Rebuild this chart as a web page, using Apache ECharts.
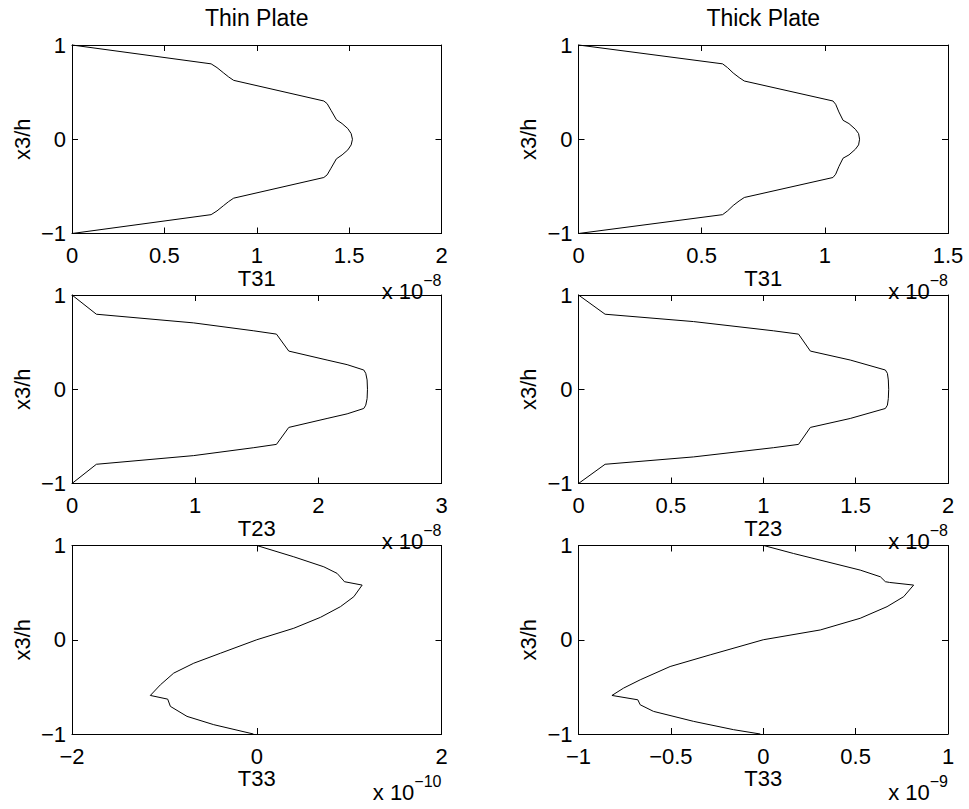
<!DOCTYPE html>
<html><head><meta charset="utf-8">
<script src="https://cdn.jsdelivr.net/npm/echarts@6/dist/echarts.min.js"></script>
<style>html,body{margin:0;padding:0;background:#fff}#c{width:969px;height:809px}</style>
</head><body><div id="c"></div>
<script>
// ---- data (x values in units of the axis multiplier, y = x3/h) ----
const columnTitles = ['Thin Plate', 'Thick Plate'];
const xNames = ['T31', 'T31', 'T23', 'T23', 'T33', 'T33'];
const xMins = [0, 0, 0, 0, -2, -1];
const xMaxs = [2, 1.5, 3, 2, 2, 1];
const xSteps = [0.5, 0.5, 1, 0.5, 2, 0.5];
const exponents = ['\u22128', '\u22128', '\u22128', '\u22128', '\u221210', '\u22129'];
const yName = 'x3/h';
const yMin = -1, yMax = 1, yStep = 1;

const thinT31Y = [1, 0.8, 0.76, 0.703, 0.661, 0.625, 0.406, 0.378, 0.307, 0.208, 0.166, 0.113, 0.06, 0, -0.06, -0.113, -0.166, -0.208, -0.307, -0.378, -0.406, -0.625, -0.661, -0.703, -0.76, -0.8, -1];
const thinT31X = [0, 0.753, 0.785, 0.821, 0.848, 0.875, 1.363, 1.381, 1.402, 1.431, 1.462, 1.493, 1.511, 1.518, 1.511, 1.493, 1.462, 1.431, 1.402, 1.381, 1.363, 0.875, 0.848, 0.821, 0.785, 0.753, 0];

const thickT31Y = [1, 0.8, 0.76, 0.703, 0.655, 0.618, 0.406, 0.371, 0.29, 0.201, 0.166, 0.106, 0.06, 0, -0.06, -0.106, -0.166, -0.201, -0.29, -0.371, -0.406, -0.618, -0.655, -0.703, -0.76, -0.8, -1];
const thickT31X = [0, 0.585, 0.605, 0.628, 0.652, 0.673, 1.033, 1.044, 1.057, 1.074, 1.098, 1.124, 1.137, 1.141, 1.137, 1.124, 1.098, 1.074, 1.057, 1.044, 1.033, 0.673, 0.652, 0.628, 0.605, 0.585, 0];

const thinT23Y = [1, 0.796, 0.704, 0.62, 0.585, 0.405, 0.31, 0.261, 0.204, 0.169, 0.099, 0, -0.099, -0.169, -0.204, -0.261, -0.31, -0.405, -0.585, -0.62, -0.704, -0.796, -1];
const thinT23X = [0, 0.198, 0.988, 1.476, 1.66, 1.76, 2.071, 2.234, 2.369, 2.385, 2.396, 2.399, 2.396, 2.385, 2.369, 2.234, 2.071, 1.76, 1.66, 1.476, 0.988, 0.198, 0];

const thickT23Y = [1, 0.796, 0.718, 0.62, 0.585, 0.405, 0.31, 0.204, 0.169, 0.099, 0, -0.099, -0.169, -0.204, -0.31, -0.405, -0.585, -0.62, -0.718, -0.796, -1];
const thickT23X = [0, 0.144, 0.623, 1.056, 1.191, 1.255, 1.471, 1.661, 1.672, 1.677, 1.679, 1.677, 1.672, 1.661, 1.471, 1.255, 1.191, 1.056, 0.623, 0.144, 0];

const thinT33Y = [1, 0.88, 0.774, 0.704, 0.633, 0.616, 0.58, 0.457, 0.351, 0.238, 0.122, 0, -0.143, -0.249, -0.354, -0.478, -0.591, -0.63, -0.707, -0.813, -0.901, -1];
const thinT33X = [0, 0.401, 0.726, 0.87, 0.935, 0.949, 1.141, 1.051, 0.906, 0.69, 0.401, 0, -0.393, -0.682, -0.899, -1.043, -1.152, -0.964, -0.935, -0.755, -0.466, -0.036];

const thickT33Y = [1, 0.915, 0.827, 0.739, 0.668, 0.616, 0.608, 0.58, 0.457, 0.351, 0.228, 0.104, 0, -0.16, -0.284, -0.425, -0.513, -0.591, -0.637, -0.69, -0.76, -0.866, -0.954, -1];
const thickT33X = [0.002, 0.164, 0.345, 0.525, 0.634, 0.661, 0.684, 0.814, 0.76, 0.67, 0.525, 0.309, 0, -0.287, -0.504, -0.666, -0.756, -0.819, -0.679, -0.666, -0.594, -0.377, -0.161, -0.016];

const panelX = [thinT31X, thickT31X, thinT23X, thickT23X, thinT33X, thickT33X];
const panelY = [thinT31Y, thickT31Y, thinT23Y, thickT23Y, thinT33Y, thickT33Y];

// ---- layout ----
const FONT = '"Liberation Sans", Arial, Helvetica, sans-serif';
const FS = 22;
const colLeft = [72, 578.5];
const rowTop = [45, 295, 545.5];
const W = 369.5, H = 188.5;

const fmt = v => String(v).replace('-', '\u2212');
const mkLine = () => ({show: true, onZero: false, lineStyle: {color: '#000', width: 1}});
const mkTick = () => ({show: true, inside: true, length: 6, lineStyle: {color: '#000', width: 1}});

const grids = [], xAxes = [], yAxes = [], series = [], graphics = [];
for (let i = 0; i < 6; i++) {
  const row = Math.floor(i / 2), col = i % 2;
  // main grid (bottom / left axes) and overlay grid (top / right axes)
  grids.push({left: colLeft[col], top: rowTop[row], width: W, height: H});
  grids.push({left: colLeft[col], top: rowTop[row], width: W, height: H});
  xAxes.push({gridIndex: 2 * i, type: 'value', min: xMins[i], max: xMaxs[i], interval: xSteps[i],
    position: 'bottom', axisLine: mkLine(), axisTick: mkTick(), splitLine: {show: false},
    axisLabel: {formatter: fmt, color: '#000', fontSize: FS, fontFamily: FONT, margin: 11},
    name: xNames[i], nameLocation: 'middle', nameGap: 33,
    nameTextStyle: {color: '#000', fontSize: FS, fontFamily: FONT}});
  xAxes.push({gridIndex: 2 * i + 1, type: 'value', min: xMins[i], max: xMaxs[i], interval: xSteps[i],
    position: 'top', axisLine: mkLine(), axisTick: mkTick(), splitLine: {show: false},
    axisLabel: {show: false}});
  yAxes.push({gridIndex: 2 * i, type: 'value', min: yMin, max: yMax, interval: yStep,
    position: 'left', axisLine: mkLine(), axisTick: mkTick(), splitLine: {show: false},
    axisLabel: {formatter: fmt, color: '#000', fontSize: FS, fontFamily: FONT, margin: 6},
    name: yName, nameLocation: 'middle', nameGap: 39, nameRotate: 90,
    nameTextStyle: {color: '#000', fontSize: FS, fontFamily: FONT}});
  yAxes.push({gridIndex: 2 * i + 1, type: 'value', min: yMin, max: yMax, interval: yStep,
    position: 'right', axisLine: mkLine(), axisTick: mkTick(), splitLine: {show: false},
    axisLabel: {show: false}});
  series.push({type: 'line', xAxisIndex: 2 * i, yAxisIndex: 2 * i, showSymbol: false, symbol: 'none',
    silent: true, clip: false, lineStyle: {color: '#000', width: 1},
    data: panelX[i].map((x, k) => [x, panelY[i][k]])});
  // multiplier label
  graphics.push({type: 'text', z: 100, x: colLeft[col] + W, y: rowTop[row] + H + 54,
    style: {text: '{a|x 10}{b|' + exponents[i] + '}', align: 'right', verticalAlign: 'middle',
      rich: {a: {fontSize: FS, fontFamily: FONT, fill: '#000', lineHeight: 30, verticalAlign: 'bottom'},
             b: {fontSize: 16, fontFamily: FONT, fill: '#000', lineHeight: 14, verticalAlign: 'top'}}}});
}
for (let c = 0; c < 2; c++) {
  graphics.push({type: 'text', z: 100, x: colLeft[c] + W / 2, y: 17.5,
    style: {text: columnTitles[c], align: 'center', verticalAlign: 'middle',
      font: '23px ' + FONT, fill: '#000'}});
}

const chart = echarts.init(document.getElementById('c'), null, {renderer: 'svg'});
chart.setOption({animation: false, backgroundColor: '#fff',
  grid: grids, xAxis: xAxes, yAxis: yAxes, series: series, graphic: graphics});
</script></body></html>
